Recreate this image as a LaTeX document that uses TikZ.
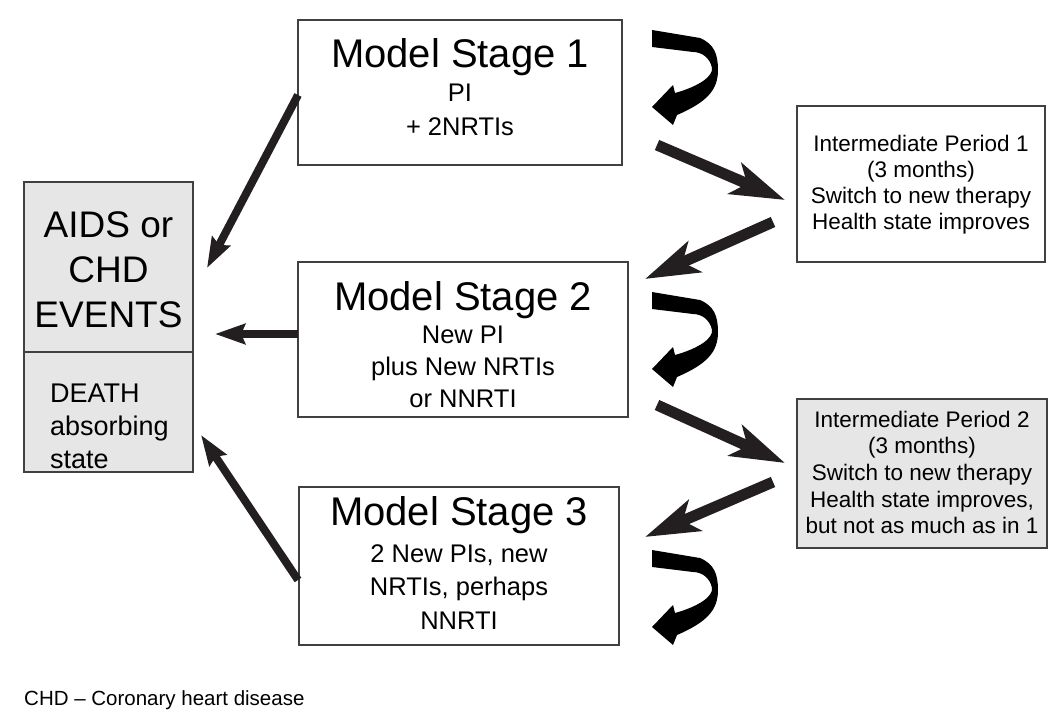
\documentclass[tikz,border=0pt]{standalone}
\usepackage{fontspec}
\setmainfont{Liberation Sans}
\usetikzlibrary{arrows.meta}
\definecolor{arrowc}{HTML}{231F20}
\definecolor{boxfill}{HTML}{E6E6E6}
\definecolor{boxline}{HTML}{404040}
\newcommand{\fsTitle}{\fontsize{40}{46}\selectfont}
\newcommand{\fsSub}{\fontsize{25.5}{30}\selectfont}
\newcommand{\fsAids}{\fontsize{37}{43}\selectfont}
\newcommand{\fsDeath}{\fontsize{27}{33}\selectfont}
\newcommand{\fsIP}{\fontsize{22.5}{26}\selectfont}
\newcommand{\fsFoot}{\fontsize{20.5}{24}\selectfont}
\tikzset{
  box/.style={draw=boxline, line width=1.2pt, rectangle, inner sep=0pt, fill=white},
  graybox/.style={box, fill=boxfill},
  lbl/.style={anchor=base, inner sep=0pt},
  bigarrow/.style={draw=arrowc, line width=11pt, -{Stealth[length=54pt,width=33pt,inset=13pt]}},
  thinarrow/.style={draw=arrowc, line width=8pt, -{Stealth[length=30pt,width=20pt,inset=4pt]}},
  pics/curl/.style={code={
    \fill[black] (0,0) -- (48,8) .. controls (62,14) and (66,24) .. (66,40)
      .. controls (66,60) and (55,72) .. (25,85) -- (21,95) -- (0,77) -- (21,55) -- (23,63)
      .. controls (48,56) and (61,46) .. (60,38) .. controls (58,28) and (50,22) .. (41,22)
      -- (0,17) -- cycle;
  }}
}
\begin{document}
\begin{tikzpicture}[x=1pt,y=-1pt]
\useasboundingbox (0,0) rectangle (1050,725);

% boxes
\node[graybox, minimum width=169pt, minimum height=290pt] (aids) at (108.5,327) {};
\draw[boxline, line width=1.2pt] (aids.west |- 0,352) coordinate (divl) -- (aids.east |- 0,352) coordinate (divr);
\node[box, minimum width=324pt, minimum height=145pt] (s1) at (460,92.5) {};
\node[box, minimum width=330pt, minimum height=155pt] (s2) at (463,339.5) {};
\node[box, minimum width=320pt, minimum height=158pt] (s3) at (459,566) {};
\node[box, minimum width=248pt, minimum height=156pt] (ip1) at (921,184) {};
\node[graybox, minimum width=250pt, minimum height=149pt] (ip2) at (922,473.5) {};

% texts: AIDS box
\node[lbl, font=\fsAids] (aidsA) at (108.5,237) {AIDS or};
\node[lbl, font=\fsAids] (aidsB) at (108.5,282) {CHD};
\node[lbl, font=\fsAids] (aidsC) at (108.5,327) {EVENTS};
\node[lbl, anchor=base west, font=\fsDeath] (deA) at (50,402) {DEATH};
\node[lbl, anchor=base west, font=\fsDeath] (deB) at (50,435) {absorbing};
\node[lbl, anchor=base west, font=\fsDeath] (deC) at (50,468) {state};

% Stage 1
\node[lbl, font=\fsTitle] (s1t) at (460,67) {Model Stage 1};
\node[lbl, font=\fsSub] (s1a) at (460,101) {PI};
\node[lbl, font=\fsSub] (s1b) at (460,135) {+ 2NRTIs};
% Stage 2
\node[lbl, font=\fsTitle] (s2t) at (463,310) {Model Stage 2};
\node[lbl, font=\fsSub] (s2a) at (463,343) {New PI};
\node[lbl, font=\fsSub] (s2b) at (463,375) {plus New NRTIs};
\node[lbl, font=\fsSub] (s2c) at (463,407) {or NNRTI};
% Stage 3
\node[lbl, font=\fsTitle] (s3t) at (459,525) {Model Stage 3};
\node[lbl, font=\fsSub] (s3a) at (459,562) {2 New PIs, new};
\node[lbl, font=\fsSub] (s3b) at (459,595) {NRTIs, perhaps};
\node[lbl, font=\fsSub] (s3c) at (459,629) {NNRTI};
% IP1
\node[lbl, font=\fsIP] (ip1a) at (921,151) {Intermediate Period 1};
\node[lbl, font=\fsIP] (ip1b) at (921,177) {(3 months)};
\node[lbl, font=\fsIP] (ip1c) at (921,203) {Switch to new therapy};
\node[lbl, font=\fsIP] (ip1d) at (921,229) {Health state improves};
% IP2
\node[lbl, font=\fsIP] (ip2a) at (922,427) {Intermediate Period 2};
\node[lbl, font=\fsIP] (ip2b) at (922,453) {(3 months)};
\node[lbl, font=\fsIP] (ip2c) at (922,480) {Switch to new therapy};
\node[lbl, font=\fsIP] (ip2d) at (922,507) {Health state improves,};
\node[lbl, font=\fsIP] (ip2e) at (922,533) {but not as much as in 1};

% footer
\node[lbl, anchor=base west, font=\fsFoot] (foot) at (24,705) {CHD – Coronary heart disease};

% arrow end points
\coordinate (a1s) at (298,95);  \coordinate (a1e) at (207,268);
\coordinate (a2s) at (298,334); \coordinate (a2e) at (215,334);
\coordinate (a3s) at (298,580); \coordinate (a3e) at (201,435);
\coordinate (b1s) at (657,145); \coordinate (b1e) at (785,200);
\coordinate (b2s) at (773,222); \coordinate (b2e) at (645,279);
\coordinate (b3s) at (657,405); \coordinate (b3e) at (785,463);
\coordinate (b4s) at (773,482); \coordinate (b4e) at (645,537);

\draw[thinarrow] (a1s) -- (a1e);
\draw[thinarrow] (a2s) -- (a2e);
\draw[thinarrow] (a3s) -- (a3e);
\draw[bigarrow] (b1s) -- (b1e);
\draw[bigarrow] (b2s) -- (b2e);
\draw[bigarrow] (b3s) -- (b3e);
\draw[bigarrow] (b4s) -- (b4e);

% self-loop curls
\pic at (652,30) {curl};
\pic at (652,292) {curl};
\pic at (652,550) {curl};
\end{tikzpicture}
\end{document}
